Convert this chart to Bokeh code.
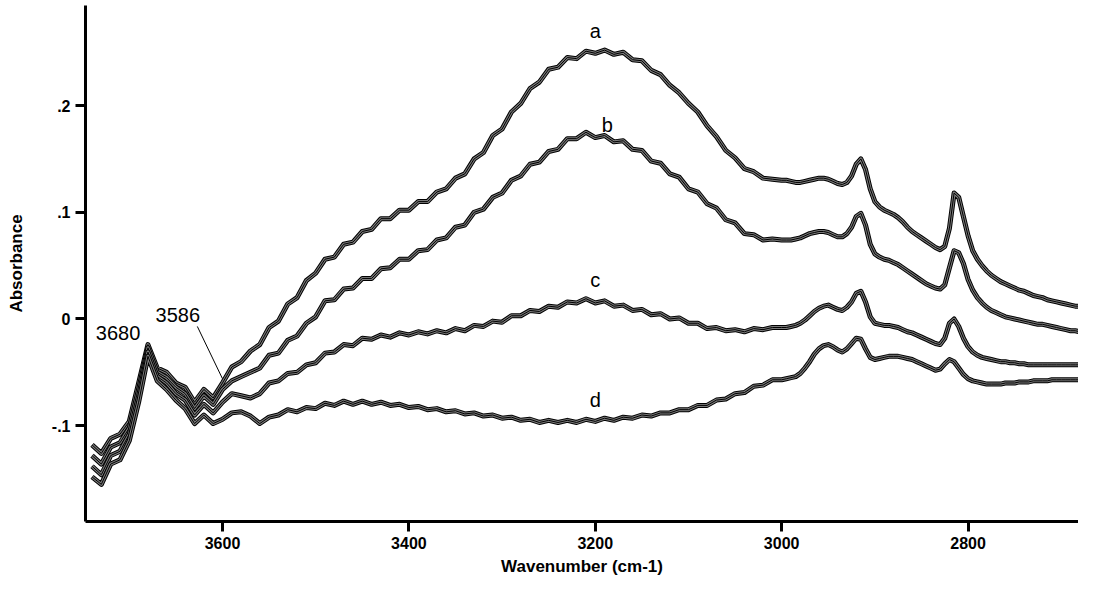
from bokeh.plotting import figure
from bokeh.models import Range1d, FixedTicker, ColumnDataSource
from bokeh.embed import file_html
from bokeh.resources import INLINE
from bokeh.core.properties import value

# ---------------- data ----------------
wavenumber = list(range(3740, 3000, -10)) + list(range(3000, 2675, -5))

a_left = [-0.118, -0.126, -0.112, -0.108, -0.096, -0.060, -0.024, -0.046, -0.050, -0.060, -0.064, -0.078, -0.066, -0.074, -0.060]
b_left = [-0.128, -0.136, -0.120, -0.116, -0.102, -0.066, -0.027, -0.050, -0.055, -0.064, -0.070, -0.084, -0.072, -0.080, -0.066]
c_left = [-0.138, -0.146, -0.128, -0.124, -0.108, -0.072, -0.031, -0.054, -0.060, -0.070, -0.076, -0.090, -0.080, -0.088, -0.078]
d_left = [-0.148, -0.155, -0.136, -0.132, -0.114, -0.078, -0.035, -0.058, -0.066, -0.076, -0.084, -0.098, -0.090, -0.098, -0.094]

a_mid = [-0.045, -0.040, -0.030, -0.024, -0.008, -0.002, 0.014, 0.020, 0.036, 0.043,
         0.056, 0.058, 0.070, 0.072, 0.082, 0.084, 0.094, 0.094, 0.102,
         0.102, 0.110, 0.110, 0.119, 0.122, 0.132, 0.136, 0.150, 0.156, 0.172,
         0.178, 0.194, 0.202, 0.216, 0.222, 0.234, 0.236, 0.245, 0.244, 0.251,
         0.249, 0.252, 0.248, 0.250, 0.243, 0.242, 0.233, 0.229, 0.219, 0.212,
         0.202, 0.194, 0.181, 0.171, 0.158, 0.151, 0.141, 0.138, 0.132, 0.131]
b_mid = [-0.058, -0.054, -0.050, -0.046, -0.034, -0.032, -0.020, -0.016, -0.004, 0.002,
         0.017, 0.018, 0.028, 0.029, 0.038, 0.038, 0.047, 0.048, 0.056,
         0.056, 0.064, 0.065, 0.074, 0.076, 0.086, 0.088, 0.100, 0.103, 0.114,
         0.118, 0.130, 0.134, 0.145, 0.147, 0.157, 0.159, 0.169, 0.169, 0.175,
         0.170, 0.172, 0.166, 0.167, 0.159, 0.158, 0.148, 0.146, 0.136, 0.133,
         0.122, 0.119, 0.108, 0.104, 0.093, 0.090, 0.080, 0.079, 0.074, 0.075]
c_mid = [-0.070, -0.072, -0.074, -0.070, -0.060, -0.058, -0.051, -0.050, -0.043, -0.041,
         -0.032, -0.031, -0.024, -0.025, -0.018, -0.019, -0.015, -0.017, -0.013,
         -0.015, -0.012, -0.014, -0.011, -0.013, -0.009, -0.011, -0.006, -0.007, -0.002,
         -0.003, 0.003, 0.003, 0.008, 0.007, 0.012, 0.011, 0.016, 0.015, 0.019,
         0.015, 0.017, 0.012, 0.013, 0.008, 0.009, 0.004, 0.005, 0.000, 0.001,
         -0.004, -0.004, -0.009, -0.008, -0.011, -0.010, -0.012, -0.009, -0.010, -0.008]
d_mid = [-0.088, -0.087, -0.091, -0.098, -0.092, -0.090, -0.085, -0.087, -0.083, -0.084,
         -0.079, -0.081, -0.077, -0.080, -0.077, -0.080, -0.078, -0.081, -0.080,
         -0.083, -0.082, -0.085, -0.084, -0.087, -0.086, -0.089, -0.088, -0.091, -0.090,
         -0.093, -0.092, -0.095, -0.094, -0.097, -0.095, -0.097, -0.095, -0.097, -0.094,
         -0.096, -0.093, -0.095, -0.092, -0.093, -0.090, -0.091, -0.088, -0.088, -0.085,
         -0.085, -0.081, -0.081, -0.076, -0.075, -0.070, -0.069, -0.063, -0.062, -0.057]

a_fine = [0.130, 0.130, 0.129, 0.128, 0.128, 0.129, 0.130, 0.131, 0.132, 0.132,
          0.131, 0.129, 0.127, 0.126, 0.128, 0.134, 0.145, 0.150, 0.140, 0.122,
          0.110, 0.105, 0.102, 0.100, 0.098, 0.095, 0.091, 0.086, 0.082, 0.079,
          0.076, 0.073, 0.070, 0.067, 0.065, 0.068, 0.085, 0.118, 0.114, 0.096,
          0.078, 0.064, 0.056, 0.050, 0.045, 0.041, 0.038, 0.035, 0.033, 0.031,
          0.029, 0.027, 0.026, 0.024, 0.022, 0.021, 0.020, 0.018, 0.017, 0.016,
          0.015, 0.014, 0.013, 0.012, 0.012]
b_fine = [0.074, 0.074, 0.074, 0.075, 0.076, 0.078, 0.080, 0.081, 0.082, 0.082,
          0.081, 0.079, 0.077, 0.077, 0.080, 0.086, 0.096, 0.099, 0.088, 0.070,
          0.061, 0.058, 0.056, 0.055, 0.053, 0.051, 0.048, 0.045, 0.042, 0.039,
          0.036, 0.033, 0.031, 0.029, 0.028, 0.032, 0.048, 0.064, 0.062, 0.052,
          0.037, 0.027, 0.020, 0.015, 0.011, 0.008, 0.006, 0.004, 0.002, 0.001,
          0.000, -0.001, -0.002, -0.003, -0.004, -0.005, -0.005, -0.006, -0.007, -0.008,
          -0.009, -0.010, -0.011, -0.011, -0.012]
c_fine = [-0.008, -0.008, -0.007, -0.006, -0.004, -0.001, 0.003, 0.007, 0.010, 0.012,
          0.013, 0.011, 0.009, 0.008, 0.011, 0.016, 0.024, 0.026, 0.016, 0.002,
          -0.004, -0.005, -0.006, -0.006, -0.007, -0.008, -0.010, -0.012, -0.013, -0.015,
          -0.017, -0.019, -0.021, -0.023, -0.024, -0.018, -0.004, 0.000, -0.007, -0.018,
          -0.026, -0.031, -0.034, -0.036, -0.037, -0.038, -0.039, -0.040, -0.040, -0.041,
          -0.041, -0.042, -0.042, -0.043, -0.043, -0.043, -0.043, -0.043, -0.043, -0.043,
          -0.043, -0.043, -0.043, -0.043, -0.043]
d_fine = [-0.057, -0.056, -0.055, -0.054, -0.051, -0.046, -0.040, -0.033, -0.028, -0.025,
          -0.024, -0.026, -0.029, -0.031, -0.028, -0.023, -0.018, -0.019, -0.028, -0.036,
          -0.038, -0.037, -0.036, -0.035, -0.035, -0.035, -0.036, -0.037, -0.038, -0.040,
          -0.042, -0.044, -0.046, -0.048, -0.047, -0.042, -0.038, -0.040, -0.046, -0.052,
          -0.056, -0.058, -0.059, -0.060, -0.061, -0.061, -0.061, -0.061, -0.060, -0.060,
          -0.060, -0.059, -0.059, -0.059, -0.058, -0.058, -0.058, -0.058, -0.057, -0.057,
          -0.057, -0.057, -0.057, -0.057, -0.057]

spectrum_a = a_left + a_mid + a_fine
spectrum_b = b_left + b_mid + b_fine
spectrum_c = c_left + c_mid + c_fine
spectrum_d = d_left + d_mid + d_fine

curve_names = ["a", "b", "c", "d"]
curve_label_x = [3200, 3187, 3200, 3200]
curve_label_y = [0.270, 0.182, 0.037, -0.076]

peak_names = ["3680", "3586"]
peak_label_x = [3712, 3648]
peak_label_y = [-0.013, 0.004]
pointer_x = [3627, 3600]
pointer_y = [-0.007, -0.056]

x_ticks = [3600, 3400, 3200, 3000, 2800]
y_ticks = [-0.1, 0.0, 0.1, 0.2]
y_tick_labels = ["-.1", "0", ".1", ".2"]

FONT = "Liberation Sans"

# ---------------- figure ----------------
p = figure(width=1078, height=578, output_backend="svg", toolbar_location=None,
           x_range=Range1d(3747, 2681.5), y_range=Range1d(-0.1898, 0.2938),
           min_border_left=85, min_border_top=5, min_border_right=0, min_border_bottom=57)
p.outline_line_color = None
p.grid.visible = False
p.background_fill_color = "white"
p.border_fill_color = "white"

for spec in [spectrum_a, spectrum_b, spectrum_c, spectrum_d]:
    src = ColumnDataSource(dict(x=wavenumber, y=spec))
    p.line("x", "y", source=src, line_width=5, line_color="black", line_join="round")
    p.line("x", "y", source=src, line_width=3, line_color="#7a7a7a", line_join="round")
    p.line("x", "y", source=src, line_width=1, line_color="black", line_join="round")

p.text(x=curve_label_x, y=curve_label_y, text=curve_names, text_font=value(FONT),
       text_font_size="20px", text_align="center", text_baseline="middle", text_color="black")
p.text(x=peak_label_x, y=peak_label_y, text=peak_names, text_font=value(FONT),
       text_font_size="20px", text_align="center", text_baseline="middle", text_color="black")
p.line(pointer_x, pointer_y, line_width=1, line_color="black")

for ax in [p.xaxis[0], p.yaxis[0]]:
    ax.axis_line_width = 3
    ax.axis_line_color = "black"
    ax.major_tick_line_width = 3
    ax.major_tick_line_color = "black"
    ax.major_tick_out = 10
    ax.major_tick_in = 0
    ax.minor_tick_line_color = None
    ax.major_label_text_font = FONT
    ax.major_label_text_font_style = "bold"
    ax.major_label_text_font_size = "16px"
    ax.major_label_text_color = "black"
    ax.axis_label_text_font = FONT
    ax.axis_label_text_font_style = "bold"
    ax.axis_label_text_font_size = "17px"
    ax.axis_label_text_color = "black"

p.xaxis.ticker = FixedTicker(ticks=x_ticks)
p.xaxis.axis_label = "Wavenumber (cm-1)"
p.xaxis.major_label_standoff = 5
p.xaxis.axis_label_standoff = 5

p.yaxis.ticker = FixedTicker(ticks=y_ticks)
p.yaxis.major_label_overrides = {t: s for t, s in zip(y_ticks, y_tick_labels)}
p.yaxis.axis_label = "Absorbance"
p.yaxis.major_label_standoff = 5
p.yaxis.axis_label_standoff = 23

open("out.html", "w").write(file_html(p, INLINE))
